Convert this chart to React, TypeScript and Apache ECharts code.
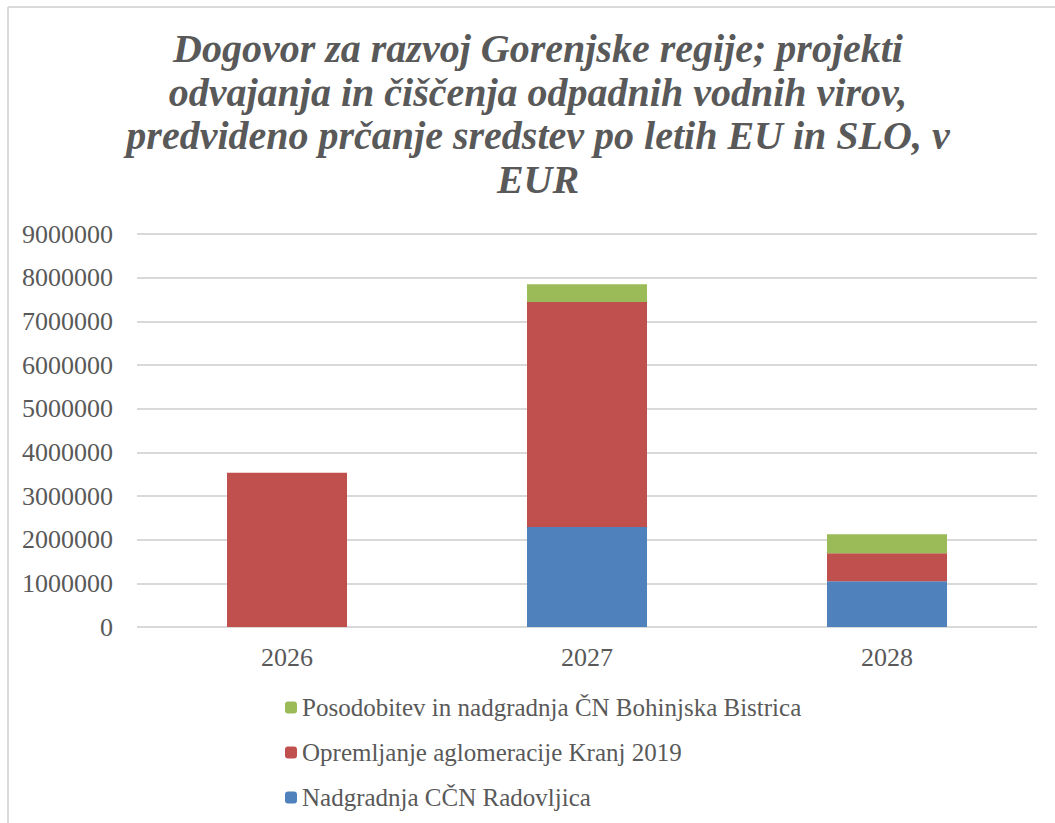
import React, { useEffect, useRef } from "react";
import * as echarts from "echarts";

const categories = ["2026", "2027", "2028"];
const seriesNames = [
  "Nadgradnja CČN Radovljica",
  "Opremljanje aglomeracije Kranj 2019",
  "Posodobitev in nadgradnja ČN Bohinjska Bistrica",
];
const radovljica = [0, 2290000, 1050000];
const kranj = [3530000, 5150000, 640000];
const bohinj = [0, 410000, 435000];
const colors = ["#4F81BD", "#C0504D", "#9BBB59"];
const titleText =
  "Dogovor za razvoj Gorenjske regije; projekti\nodvajanja in čiščenja odpadnih vodnih virov,\npredvideno prčanje sredstev po letih EU in SLO, v\nEUR";

export default function App() {
  const ref = useRef<HTMLDivElement>(null);
  useEffect(() => {
    if (!ref.current) return;
    const chart = echarts.init(ref.current, null, { renderer: "svg" });
    const font = "'Liberation Serif', 'Times New Roman', serif";
    const values = [radovljica, kranj, bohinj];
    chart.setOption({
      animation: false,
      backgroundColor: "#ffffff",
      title: {
        text: titleText,
        left: 533,
        top: 22,
        textAlign: "center",
        textStyle: {
          fontFamily: font,
          fontSize: 40,
          fontWeight: "bold",
          fontStyle: "italic",
          color: "#595959",
          lineHeight: 43.5,
        },
      },
      graphic: [
        {
          type: "line",
          shape: { x1: 8, y1: 7, x2: 1055, y2: 7 },
          style: { stroke: "#D9D9D9", lineWidth: 2 },
        },
        {
          type: "line",
          shape: { x1: 8, y1: 7, x2: 8, y2: 823 },
          style: { stroke: "#D9D9D9", lineWidth: 2 },
        },
      ],
      legend: {
        orient: "vertical",
        left: 280,
        top: 690,
        itemWidth: 12,
        itemHeight: 12,
        itemGap: 20,
        data: [seriesNames[2], seriesNames[1], seriesNames[0]],
        textStyle: {
          fontFamily: font,
          fontSize: 25,
          lineHeight: 24,
          color: "#595959",
        },
      },
      grid: { left: 137, right: 18, top: 234, bottom: 196 },
      xAxis: {
        type: "category",
        data: categories,
        axisLine: { show: false },
        axisTick: { show: false },
        axisLabel: {
          fontFamily: font,
          fontSize: 26,
          color: "#595959",
          margin: 17,
        },
      },
      yAxis: {
        type: "value",
        min: 0,
        max: 9000000,
        interval: 1000000,
        axisLine: { show: false },
        axisTick: { show: false },
        splitLine: { lineStyle: { color: "#D9D9D9", width: 2 } },
        axisLabel: {
          fontFamily: font,
          fontSize: 26,
          color: "#595959",
          margin: 24,
          formatter: (v: number) => String(v),
        },
      },
      series: seriesNames.map((name, i) => ({
        name,
        type: "bar",
        stack: "total",
        barWidth: "40%",
        data: values[i],
        itemStyle: { color: colors[i] },
      })),
    });
    return () => chart.dispose();
  }, []);
  return (
    <div
      ref={ref}
      style={{ position: "absolute", left: 0, top: 0, width: 1055, height: 823 }}
    />
  );
}
